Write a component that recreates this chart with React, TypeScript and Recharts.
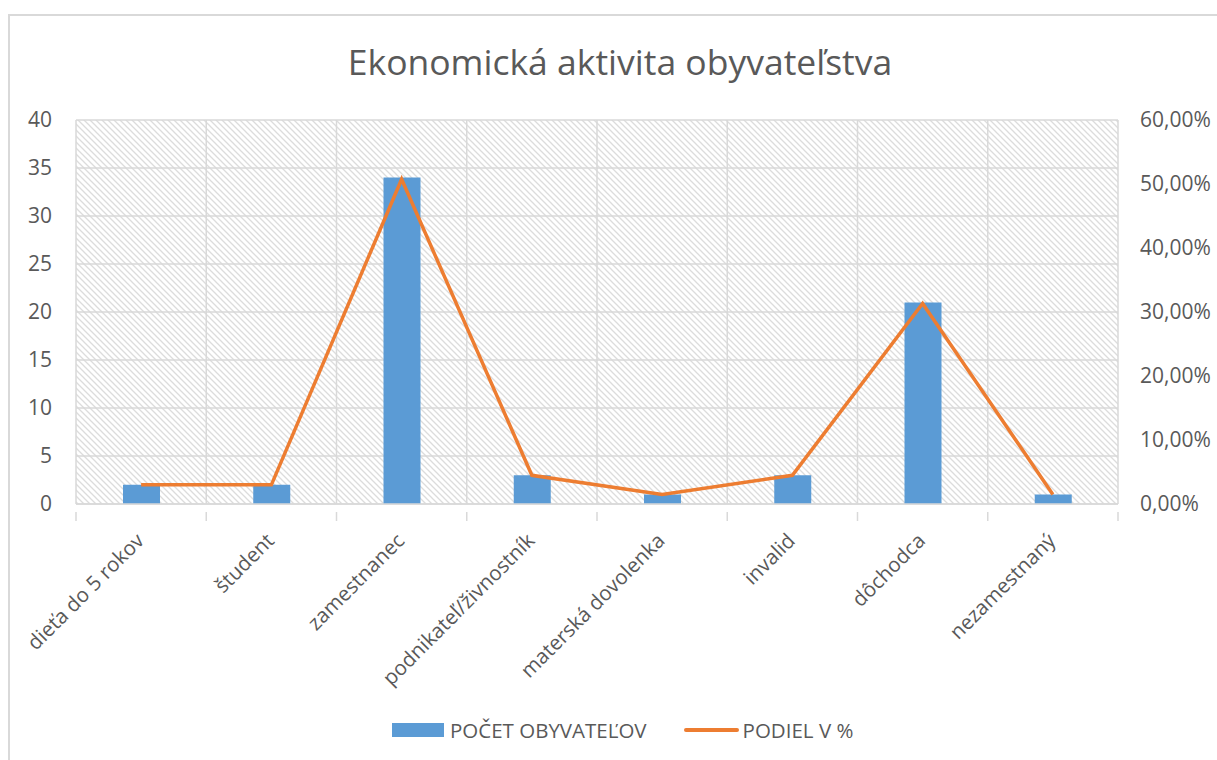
import {
  ComposedChart,
  Bar,
  Line,
  XAxis,
  YAxis,
  CartesianGrid,
  Legend,
} from "recharts";

const categories = [
  "dieťa do 5 rokov",
  "študent",
  "zamestnanec",
  "podnikateľ/živnostník",
  "materská dovolenka",
  "invalid",
  "dôchodca",
  "nezamestnaný",
];
const pocet = [2, 2, 34, 3, 1, 3, 21, 1];
const podiel = [0.0299, 0.0299, 0.5075, 0.0448, 0.0149, 0.0448, 0.3134, 0.0149];
const leftTicks = [0, 5, 10, 15, 20, 25, 30, 35, 40];
const rightTicks = [0, 0.1, 0.2, 0.3, 0.4, 0.5, 0.6];

const data = categories.map((name, i) => ({
  name,
  pocet: pocet[i],
  podiel: podiel[i],
}));

const FONT = "'Open Sans', 'Noto Sans', sans-serif";
const TEXT = "#595959";
const GRID = "#d9d9d9";

const pct = (v: number) => (v * 100).toFixed(2).replace(".", ",") + "%";

function CategoryTick(props: any) {
  const { x, y, payload, width } = props;
  const half = width / categories.length / 2;
  const tx = x + 4;
  const ty = y + 30;
  return (
    <g>
      <line x1={x - half} y1={y} x2={x - half} y2={y + 9} stroke={GRID} strokeWidth={1.5} />
      {payload.index === categories.length - 1 && (
        <line x1={x + half} y1={y} x2={x + half} y2={y + 9} stroke={GRID} strokeWidth={1.5} />
      )}
      <text
        x={tx}
        y={ty}
        transform={`rotate(-45 ${tx} ${ty})`}
        textAnchor="end"
        fill={TEXT}
        fontSize={20.5}
        fontFamily={FONT}
      >
        {payload.value}
      </text>
    </g>
  );
}

function LegendContent() {
  return (
    <div
      style={{
        display: "flex",
        alignItems: "center",
        paddingLeft: 392,
        fontFamily: FONT,
        fontSize: 20.5,
        color: TEXT,
        height: 40,
      }}
    >
      <span style={{ width: 52, height: 14, background: "#5b9bd5", display: "inline-block" }} />
      <span style={{ marginLeft: 6 }}>POČET OBYVATEĽOV</span>
      <span
        style={{
          width: 55,
          height: 4,
          borderRadius: 2,
          background: "#ed7d31",
          display: "inline-block",
          marginLeft: 37,
        }}
      />
      <span style={{ marginLeft: 4 }}>PODIEL V %</span>
    </div>
  );
}

export default function App() {
  return (
    <div
      style={{
        position: "fixed",
        left: 0,
        top: 0,
        width: 1217,
        height: 760,
        overflow: "hidden",
        background: "#fff",
      }}
    >
      <svg width={0} height={0} style={{ position: "absolute" }}>
        <defs>
          <pattern id="hatch" patternUnits="userSpaceOnUse" width={6} height={6}>
            <rect width={6} height={6} fill="#fff" />
            <path d="M0,0 L6,6 M-1,5 L1,7 M5,-1 L7,1" stroke="#dcdcdc" strokeWidth={1.3} />
          </pattern>
        </defs>
      </svg>
      <div
        style={{
          position: "absolute",
          left: 8,
          top: 14,
          width: 1400,
          height: 900,
          border: `2px solid ${GRID}`,
        }}
      />
      <div
        style={{
          position: "absolute",
          left: 0,
          top: 37,
          width: 1240,
          textAlign: "center",
          fontFamily: FONT,
          fontSize: 35.5,
          color: TEXT,
        }}
      >
        Ekonomická aktivita obyvateľstva
      </div>
      <div style={{ position: "absolute", left: 0, top: 0 }}>
        <ComposedChart
          width={1217}
          height={760}
          data={data}
          margin={{ top: 120, right: 0, bottom: 10, left: 0 }}
        >
          <CartesianGrid
            yAxisId="left"
            stroke={GRID}
            strokeWidth={1.5}
            fill="url(#hatch)"
            verticalCoordinatesGenerator={({ offset }: any) =>
              categories.map((_, i) => offset.left + (offset.width * i) / categories.length).concat(offset.left + offset.width)
            }
          />
          <XAxis
            dataKey="name"
            interval={0}
            height={206}
            tick={<CategoryTick />}
            tickLine={false}
            axisLine={{ stroke: GRID, strokeWidth: 1.5 }}
          />
          <YAxis
            yAxisId="left"
            domain={[0, 40]}
            ticks={leftTicks}
            width={76}
            tickSize={0}
            tickMargin={24}
            axisLine={false}
            tickLine={false}
            tick={{ fill: TEXT, fontSize: 21, fontFamily: FONT }}
          />
          <YAxis
            yAxisId="right"
            orientation="right"
            domain={[0, 0.6]}
            ticks={rightTicks}
            tickFormatter={pct}
            width={99}
            tickSize={0}
            tickMargin={22}
            axisLine={false}
            tickLine={false}
            tick={{ fill: TEXT, fontSize: 21, fontFamily: FONT, textAnchor: "start" }}
          />
          <Bar
            yAxisId="left"
            dataKey="pocet"
            name="POČET OBYVATEĽOV"
            fill="#5b9bd5"
            barSize={37}
            isAnimationActive={false}
          />
          <Line
            yAxisId="right"
            dataKey="podiel"
            name="PODIEL V %"
            type="linear"
            stroke="#ed7d31"
            strokeWidth={3.5}
            dot={false}
            activeDot={false}
            isAnimationActive={false}
          />
          <Legend
            verticalAlign="bottom"
            height={40}
            content={<LegendContent />}
            wrapperStyle={{ left: 0, width: 1217 }}
          />
        </ComposedChart>
      </div>
    </div>
  );
}
